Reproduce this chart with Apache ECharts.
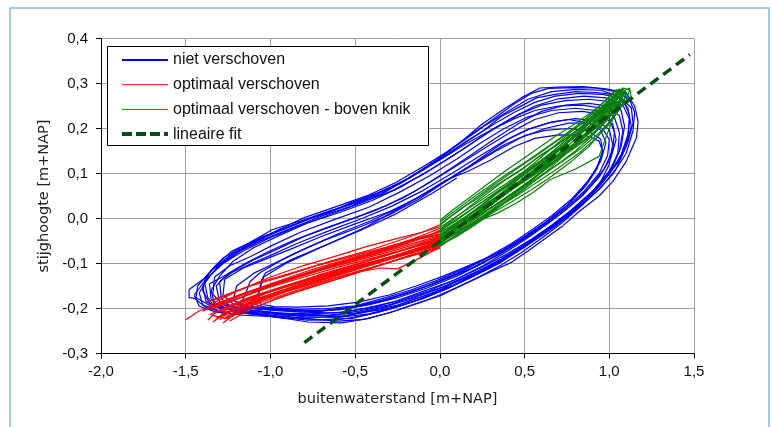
<!DOCTYPE html>
<html>
<head>
<meta charset="utf-8">
<script src="https://cdn.jsdelivr.net/npm/echarts@6/dist/echarts.min.js"></script>
<style>
html,body{margin:0;padding:0;background:#fff;}
#chart{width:772px;height:427px;}
</style>
</head>
<body>
<div id="chart"></div>
<script>
// ---- axis ticks ----
const xTicks = [-2.0, -1.5, -1.0, -0.5, 0.0, 0.5, 1.0, 1.5];
const yTicks = [-0.3, -0.2, -0.1, 0.0, 0.1, 0.2, 0.3, 0.4];

// ---- legend names / titles ----
const seriesNames = ['niet verschoven', 'optimaal verschoven', 'optimaal verschoven - boven knik', 'lineaire fit'];
const xTitle = 'buitenwaterstand [m+NAP]';
const yTitle = 'stijghoogte [m+NAP]';

// ---- niet verschoven (blue hysteresis loops), [x, y] ----
const blueLoops = [
 [[-1.48,-0.158],[-1.48,-0.176],[-1.43,-0.178],[-1.35,-0.195],[-1.20,-0.205],[-1.00,-0.215],[-0.80,-0.222],[-0.60,-0.228],[-0.45,-0.224],[-0.30,-0.210],[-0.15,-0.190],[0.00,-0.172],[0.15,-0.145],[0.30,-0.118],[0.42,-0.098],[0.52,-0.072],[0.62,-0.045],[0.72,-0.018],[0.82,0.015],[0.94,0.050],[1.02,0.082],[1.10,0.127],[1.16,0.179],[1.17,0.215],[1.15,0.250],[1.10,0.279],[0.98,0.288],[0.845,0.293],[0.70,0.292],[0.59,0.290],[0.48,0.268],[0.375,0.242],[0.25,0.210],[0.14,0.175],[0.02,0.140],[-0.11,0.108],[-0.25,0.075],[-0.35,0.053],[-0.50,0.034],[-0.66,0.016],[-0.82,-0.005],[-0.99,-0.025],[-1.13,-0.055],[-1.23,-0.073],[-1.33,-0.107],[-1.375,-0.129],[-1.48,-0.158]],
 [[-1.40,-0.150],[-1.38,-0.185],[-1.30,-0.200],[-1.15,-0.207],[-1.00,-0.212],[-0.80,-0.218],[-0.60,-0.220],[-0.42,-0.212],[-0.25,-0.196],[-0.10,-0.178],[0.05,-0.155],[0.20,-0.128],[0.35,-0.100],[0.48,-0.068],[0.60,-0.038],[0.72,-0.005],[0.84,0.030],[0.95,0.068],[1.04,0.110],[1.10,0.160],[1.13,0.205],[1.11,0.245],[1.05,0.272],[0.95,0.285],[0.80,0.287],[0.66,0.282],[0.52,0.265],[0.40,0.238],[0.26,0.205],[0.12,0.168],[-0.02,0.130],[-0.18,0.090],[-0.35,0.055],[-0.52,0.028],[-0.70,0.005],[-0.88,-0.022],[-1.05,-0.048],[-1.18,-0.072],[-1.30,-0.105],[-1.36,-0.128],[-1.40,-0.150]],
 [[-1.35,-0.160],[-1.33,-0.190],[-1.22,-0.203],[-1.05,-0.208],[-0.85,-0.214],[-0.65,-0.216],[-0.48,-0.206],[-0.30,-0.192],[-0.12,-0.170],[0.05,-0.148],[0.22,-0.118],[0.36,-0.090],[0.50,-0.058],[0.62,-0.026],[0.74,0.006],[0.86,0.045],[0.97,0.085],[1.06,0.130],[1.11,0.180],[1.12,0.220],[1.08,0.252],[0.98,0.268],[0.85,0.272],[0.70,0.266],[0.56,0.250],[0.42,0.222],[0.28,0.190],[0.12,0.150],[-0.05,0.110],[-0.22,0.072],[-0.40,0.040],[-0.58,0.015],[-0.78,-0.010],[-0.95,-0.038],[-1.10,-0.065],[-1.22,-0.095],[-1.30,-0.128],[-1.35,-0.160]],
 [[-1.32,-0.150],[-1.30,-0.185],[-1.20,-0.198],[-1.02,-0.203],[-0.82,-0.208],[-0.62,-0.210],[-0.45,-0.200],[-0.28,-0.186],[-0.10,-0.162],[0.08,-0.138],[0.24,-0.110],[0.40,-0.078],[0.54,-0.046],[0.66,-0.015],[0.78,0.020],[0.90,0.060],[1.00,0.105],[1.06,0.150],[1.08,0.195],[1.06,0.228],[0.99,0.250],[0.88,0.256],[0.74,0.252],[0.60,0.238],[0.46,0.210],[0.32,0.176],[0.18,0.140],[0.02,0.100],[-0.15,0.060],[-0.32,0.028],[-0.50,0.002],[-0.68,-0.022],[-0.86,-0.048],[-1.02,-0.075],[-1.15,-0.100],[-1.25,-0.122],[-1.32,-0.150]],
 [[-1.30,-0.140],[-1.29,-0.178],[-1.24,-0.195],[-1.10,-0.200],[-0.92,-0.205],[-0.72,-0.207],[-0.52,-0.198],[-0.35,-0.184],[-0.18,-0.165],[0.00,-0.140],[0.18,-0.112],[0.34,-0.082],[0.48,-0.050],[0.60,-0.020],[0.72,0.012],[0.84,0.050],[0.94,0.092],[1.01,0.135],[1.04,0.175],[1.02,0.210],[0.95,0.232],[0.84,0.238],[0.70,0.235],[0.56,0.220],[0.42,0.192],[0.28,0.160],[0.12,0.122],[-0.05,0.082],[-0.22,0.045],[-0.40,0.015],[-0.60,-0.012],[-0.80,-0.040],[-0.96,-0.068],[-1.10,-0.092],[-1.20,-0.112],[-1.30,-0.140]],
 [[-1.27,-0.135],[-1.28,-0.170],[-1.22,-0.190],[-1.08,-0.198],[-0.90,-0.204],[-0.70,-0.205],[-0.50,-0.196],[-0.32,-0.180],[-0.15,-0.160],[0.02,-0.136],[0.20,-0.108],[0.36,-0.076],[0.50,-0.044],[0.62,-0.012],[0.74,0.022],[0.85,0.060],[0.94,0.100],[0.99,0.140],[1.00,0.175],[0.96,0.200],[0.88,0.212],[0.76,0.212],[0.62,0.200],[0.48,0.180],[0.34,0.152],[0.20,0.120],[0.04,0.084],[-0.12,0.048],[-0.30,0.015],[-0.50,-0.012],[-0.70,-0.040],[-0.88,-0.068],[-1.04,-0.092],[-1.16,-0.110],[-1.27,-0.135]],
 [[-1.07,-0.166],[-1.12,-0.188],[-1.00,-0.200],[-0.80,-0.204],[-0.60,-0.203],[-0.42,-0.192],[-0.25,-0.176],[-0.08,-0.155],[0.10,-0.128],[0.26,-0.098],[0.40,-0.066],[0.52,-0.036],[0.64,-0.004],[0.76,0.032],[0.86,0.072],[0.93,0.112],[0.96,0.150],[0.94,0.172],[0.86,0.185],[0.70,0.186],[0.56,0.178],[0.44,0.160],[0.30,0.130],[0.16,0.104],[0.04,0.086],[-0.15,0.042],[-0.43,-0.018],[-0.65,-0.055],[-0.88,-0.092],[-1.03,-0.121],[-1.05,-0.135],[-1.07,-0.166]],
 [[-1.42,-0.165],[-1.40,-0.192],[-1.30,-0.205],[-1.12,-0.210],[-0.92,-0.218],[-0.72,-0.225],[-0.52,-0.222],[-0.36,-0.208],[-0.20,-0.190],[-0.04,-0.168],[0.12,-0.142],[0.28,-0.112],[0.42,-0.080],[0.55,-0.050],[0.68,-0.018],[0.80,0.018],[0.91,0.058],[1.00,0.100],[1.05,0.145],[1.06,0.190],[1.03,0.225],[0.96,0.245],[0.84,0.252],[0.70,0.250],[0.56,0.240],[0.44,0.222],[0.30,0.196],[0.15,0.165],[0.00,0.130],[-0.18,0.090],[-0.36,0.058],[-0.55,0.030],[-0.75,0.002],[-0.95,-0.028],[-1.10,-0.052],[-1.22,-0.078],[-1.32,-0.110],[-1.38,-0.140],[-1.42,-0.165]],
 [[-1.38,-0.128],[-1.40,-0.160],[-1.36,-0.188],[-1.25,-0.200],[-1.08,-0.205],[-0.88,-0.212],[-0.68,-0.215],[-0.50,-0.210],[-0.34,-0.198],[-0.18,-0.180],[-0.02,-0.158],[0.14,-0.132],[0.30,-0.104],[0.44,-0.074],[0.56,-0.044],[0.68,-0.012],[0.80,0.022],[0.92,0.058],[1.02,0.098],[1.10,0.145],[1.14,0.195],[1.15,0.235],[1.12,0.265],[1.04,0.282],[0.92,0.290],[0.78,0.291],[0.64,0.289],[0.54,0.278],[0.44,0.255],[0.32,0.222],[0.18,0.185],[0.04,0.148],[-0.10,0.115],[-0.26,0.080],[-0.42,0.052],[-0.60,0.028],[-0.80,0.002],[-0.98,-0.030],[-1.14,-0.062],[-1.26,-0.092],[-1.34,-0.112],[-1.38,-0.128]],
 [[-1.36,-0.145],[-1.35,-0.180],[-1.28,-0.200],[-1.12,-0.212],[-0.95,-0.220],[-0.78,-0.230],[-0.58,-0.232],[-0.42,-0.222],[-0.26,-0.205],[-0.10,-0.185],[0.06,-0.160],[0.22,-0.132],[0.36,-0.104],[0.48,-0.076],[0.60,-0.044],[0.72,-0.010],[0.84,0.030],[0.94,0.075],[1.00,0.120],[1.02,0.165],[1.00,0.198],[0.93,0.216],[0.80,0.222],[0.66,0.215],[0.52,0.198],[0.38,0.172],[0.24,0.140],[0.08,0.102],[-0.10,0.062],[-0.28,0.028],[-0.46,0.000],[-0.66,-0.028],[-0.84,-0.055],[-1.00,-0.082],[-1.14,-0.105],[-1.26,-0.125],[-1.36,-0.145]],
 [[-1.45,-0.170],[-1.42,-0.195],[-1.32,-0.208],[-1.16,-0.215],[-0.98,-0.218],[-0.78,-0.226],[-0.60,-0.225],[-0.44,-0.215],[-0.28,-0.200],[-0.12,-0.180],[0.04,-0.156],[0.18,-0.130],[0.32,-0.102],[0.46,-0.070],[0.58,-0.040],[0.70,-0.006],[0.82,0.030],[0.93,0.070],[1.02,0.115],[1.07,0.160],[1.09,0.205],[1.07,0.240],[1.00,0.260],[0.88,0.265],[0.74,0.262],[0.60,0.252],[0.47,0.232],[0.34,0.205],[0.20,0.170],[0.06,0.135],[-0.10,0.098],[-0.28,0.062],[-0.46,0.035],[-0.64,0.010],[-0.84,-0.018],[-1.00,-0.042],[-1.15,-0.070],[-1.28,-0.100],[-1.38,-0.135],[-1.45,-0.170]],
 [[-1.33,-0.130],[-1.34,-0.168],[-1.28,-0.192],[-1.14,-0.203],[-0.96,-0.210],[-0.76,-0.212],[-0.56,-0.208],[-0.38,-0.196],[-0.22,-0.180],[-0.06,-0.160],[0.10,-0.134],[0.26,-0.104],[0.40,-0.072],[0.53,-0.040],[0.65,-0.008],[0.77,0.028],[0.88,0.068],[0.97,0.110],[1.02,0.152],[1.03,0.192],[1.00,0.222],[0.92,0.240],[0.80,0.245],[0.66,0.240],[0.52,0.226],[0.38,0.200],[0.24,0.168],[0.10,0.132],[-0.06,0.095],[-0.24,0.058],[-0.42,0.025],[-0.62,-0.002],[-0.82,-0.030],[-0.98,-0.058],[-1.12,-0.085],[-1.24,-0.105],[-1.33,-0.130]],
 [[-1.39,-0.140],[-1.37,-0.176],[-1.33,-0.196],[-1.20,-0.204],[-1.06,-0.206],[-0.90,-0.216],[-0.74,-0.214],[-0.58,-0.218],[-0.44,-0.208],[-0.30,-0.200],[-0.16,-0.180],[-0.04,-0.166],[0.10,-0.140],[0.22,-0.122],[0.36,-0.094],[0.47,-0.070],[0.58,-0.038],[0.69,-0.012],[0.80,0.026],[0.90,0.060],[1.00,0.098],[1.07,0.142],[1.11,0.186],[1.12,0.228],[1.09,0.258],[1.02,0.276],[0.92,0.280],[0.80,0.282],[0.68,0.276],[0.57,0.268],[0.47,0.248],[0.36,0.226],[0.26,0.196],[0.14,0.168],[0.02,0.136],[-0.12,0.104],[-0.24,0.076],[-0.38,0.054],[-0.52,0.036],[-0.66,0.012],[-0.80,-0.004],[-0.94,-0.026],[-1.06,-0.042],[-1.18,-0.066],[-1.28,-0.088],[-1.35,-0.115],[-1.39,-0.140]],
 [[-1.20,-0.150],[-1.22,-0.182],[-1.14,-0.196],[-1.00,-0.198],[-0.84,-0.202],[-0.66,-0.200],[-0.50,-0.194],[-0.34,-0.178],[-0.18,-0.160],[-0.02,-0.138],[0.14,-0.112],[0.28,-0.086],[0.42,-0.056],[0.54,-0.026],[0.66,0.006],[0.78,0.044],[0.88,0.086],[0.95,0.128],[0.98,0.168],[0.95,0.196],[0.88,0.212],[0.76,0.220],[0.64,0.212],[0.52,0.198],[0.42,0.180],[0.30,0.150],[0.18,0.118],[0.04,0.084],[-0.12,0.044],[-0.30,0.008],[-0.48,-0.020],[-0.68,-0.048],[-0.86,-0.078],[-1.00,-0.104],[-1.10,-0.122],[-1.20,-0.150]],
 [[-1.43,-0.150],[-1.44,-0.180],[-1.38,-0.198],[-1.26,-0.210],[-1.10,-0.212],[-0.92,-0.222],[-0.74,-0.220],[-0.56,-0.216],[-0.40,-0.204],[-0.24,-0.192],[-0.08,-0.170],[0.08,-0.148],[0.22,-0.122],[0.36,-0.096],[0.50,-0.064],[0.62,-0.032],[0.74,0.002],[0.86,0.040],[0.96,0.080],[1.05,0.124],[1.11,0.170],[1.14,0.212],[1.13,0.246],[1.07,0.268],[0.96,0.276],[0.82,0.278],[0.68,0.272],[0.56,0.258],[0.44,0.236],[0.32,0.210],[0.18,0.176],[0.04,0.142],[-0.10,0.108],[-0.26,0.074],[-0.42,0.046],[-0.60,0.022],[-0.78,-0.002],[-0.96,-0.028],[-1.10,-0.054],[-1.24,-0.082],[-1.34,-0.112],[-1.43,-0.150]],
 [[-1.15,-0.170],[-1.18,-0.192],[-1.06,-0.200],[-0.90,-0.204],[-0.72,-0.206],[-0.54,-0.200],[-0.38,-0.186],[-0.22,-0.168],[-0.06,-0.148],[0.10,-0.122],[0.24,-0.096],[0.38,-0.068],[0.50,-0.040],[0.62,-0.010],[0.74,0.026],[0.84,0.066],[0.92,0.108],[0.96,0.146],[0.95,0.176],[0.88,0.194],[0.76,0.200],[0.62,0.196],[0.50,0.184],[0.38,0.164],[0.26,0.136],[0.12,0.104],[-0.04,0.066],[-0.22,0.028],[-0.40,-0.004],[-0.60,-0.034],[-0.78,-0.064],[-0.94,-0.094],[-1.06,-0.120],[-1.12,-0.140],[-1.15,-0.170]],
 [[0.395,-0.066],[0.30,-0.084],[0.16,-0.106],[0.02,-0.128],[-0.14,-0.150],[-0.30,-0.170],[-0.48,-0.186],[-0.66,-0.194],[-0.84,-0.197],[-0.98,-0.196],[-1.06,-0.190],[-1.07,-0.166],[-1.04,-0.130],[-0.90,-0.098],[-0.70,-0.064],[-0.46,-0.025],[-0.25,0.012],[-0.05,0.055],[0.10,0.090]]
];

// ---- optimaal verschoven (red, below knik) ----
const redLines = [
 [[-1.50,-0.225],[-1.42,-0.205],[-1.30,-0.192],[-1.15,-0.172],[-1.00,-0.152],[-0.80,-0.130],[-0.60,-0.108],[-0.40,-0.088],[-0.20,-0.068],[0.00,-0.048]],
 [[-1.36,-0.196],[-1.25,-0.182],[-1.10,-0.160],[-0.90,-0.138],[-0.70,-0.115],[-0.50,-0.094],[-0.30,-0.074],[-0.15,-0.058],[0.00,-0.040]],
 [[-1.33,-0.210],[-1.22,-0.192],[-1.05,-0.168],[-0.85,-0.146],[-0.65,-0.124],[-0.45,-0.102],[-0.25,-0.082],[-0.10,-0.066],[0.00,-0.056]],
 [[-1.30,-0.225],[-1.25,-0.210],[-1.12,-0.186],[-0.95,-0.162],[-0.75,-0.140],[-0.55,-0.116],[-0.35,-0.094],[-0.15,-0.074],[0.00,-0.060]],
 [[-1.38,-0.186],[-1.28,-0.172],[-1.12,-0.150],[-0.92,-0.128],[-0.72,-0.104],[-0.52,-0.084],[-0.32,-0.064],[-0.12,-0.042],[0.00,-0.030]],
 [[-1.35,-0.202],[-1.20,-0.180],[-1.00,-0.150],[-0.80,-0.124],[-0.60,-0.100],[-0.40,-0.078],[-0.22,-0.054],[-0.08,-0.034],[0.00,-0.022]],
 [[-1.28,-0.232],[-1.20,-0.210],[-1.05,-0.182],[-0.88,-0.158],[-0.70,-0.136],[-0.50,-0.112],[-0.30,-0.090],[-0.12,-0.068],[0.00,-0.054]],
 [[-1.32,-0.192],[-1.18,-0.170],[-0.98,-0.144],[-0.78,-0.120],[-0.58,-0.097],[-0.38,-0.074],[-0.20,-0.054],[-0.05,-0.036],[0.00,-0.028]],
 [[-1.26,-0.218],[-1.15,-0.196],[-0.98,-0.170],[-0.80,-0.148],[-0.60,-0.124],[-0.40,-0.100],[-0.20,-0.078],[0.00,-0.058]],
 [[-1.40,-0.206],[-1.30,-0.190],[-1.15,-0.166],[-0.95,-0.142],[-0.75,-0.118],[-0.55,-0.097],[-0.35,-0.076],[-0.15,-0.054],[0.00,-0.038]],
 [[-1.34,-0.182],[-1.22,-0.164],[-1.05,-0.140],[-0.85,-0.118],[-0.62,-0.092],[-0.42,-0.071],[-0.25,-0.050],[-0.10,-0.030],[0.00,-0.018]],
 [[-1.30,-0.208],[-1.18,-0.192],[-1.02,-0.165],[-0.82,-0.140],[-0.62,-0.118],[-0.42,-0.094],[-0.22,-0.071],[-0.06,-0.053],[0.00,-0.046]],
 [[-1.24,-0.228],[-1.12,-0.202],[-0.95,-0.175],[-0.75,-0.152],[-0.55,-0.128],[-0.35,-0.104],[-0.18,-0.082],[0.00,-0.062]],
 [[-1.30,-0.216],[-1.10,-0.186],[-0.90,-0.162],[-0.70,-0.140],[-0.50,-0.120],[-0.35,-0.110],[-0.25,-0.112],[-0.12,-0.088],[0.00,-0.064]],
 [[-1.36,-0.192],[-1.20,-0.162],[-1.00,-0.130],[-0.80,-0.104],[-0.60,-0.082],[-0.43,-0.062],[-0.25,-0.044],[-0.10,-0.030],[0.00,-0.014]],
 [[-1.37,-0.226],[-1.32,-0.208],[-1.25,-0.198],[-1.10,-0.176],[-0.90,-0.150],[-0.70,-0.128],[-0.48,-0.104],[-0.28,-0.084],[-0.10,-0.062],[0.00,-0.050]],
 [[-1.28,-0.200],[-1.14,-0.178],[-0.96,-0.156],[-0.76,-0.133],[-0.56,-0.110],[-0.36,-0.087],[-0.16,-0.064],[0.00,-0.044]],
 [[-1.35,-0.214],[-1.27,-0.222],[-1.16,-0.200],[-0.98,-0.176],[-0.78,-0.152],[-0.58,-0.128],[-0.38,-0.106],[-0.18,-0.084],[0.00,-0.064]],
 [[-1.32,-0.222],[-1.22,-0.204],[-1.08,-0.178],[-0.90,-0.156],[-0.72,-0.134],[-0.52,-0.110],[-0.32,-0.088],[-0.14,-0.068],[0.00,-0.052]],
 [[-1.38,-0.200],[-1.30,-0.186],[-1.16,-0.166],[-0.96,-0.140],[-0.76,-0.114],[-0.56,-0.092],[-0.36,-0.070],[-0.16,-0.048],[0.00,-0.034]],
 [[-1.29,-0.212],[-1.20,-0.200],[-1.04,-0.174],[-0.86,-0.150],[-0.66,-0.128],[-0.46,-0.104],[-0.26,-0.082],[-0.08,-0.060],[0.00,-0.050]],
 [[-1.33,-0.198],[-1.24,-0.186],[-1.08,-0.160],[-0.88,-0.134],[-0.68,-0.110],[-0.48,-0.088],[-0.28,-0.066],[-0.12,-0.046],[0.00,-0.036]],
 [[-1.27,-0.224],[-1.18,-0.210],[-1.00,-0.184],[-0.82,-0.160],[-0.62,-0.136],[-0.42,-0.112],[-0.22,-0.088],[0.00,-0.066]],
 [[-1.36,-0.214],[-1.26,-0.196],[-1.10,-0.172],[-0.92,-0.150],[-0.72,-0.126],[-0.52,-0.104],[-0.32,-0.082],[-0.14,-0.060],[0.00,-0.042]],
 [[-1.31,-0.188],[-1.20,-0.174],[-1.02,-0.150],[-0.84,-0.128],[-0.64,-0.104],[-0.44,-0.082],[-0.24,-0.060],[-0.08,-0.040],[0.00,-0.026]],
 [[-1.34,-0.230],[-1.28,-0.214],[-1.14,-0.190],[-0.96,-0.166],[-0.76,-0.144],[-0.56,-0.122],[-0.36,-0.098],[-0.16,-0.076],[0.00,-0.058]]
];

// ---- optimaal verschoven - boven knik (green) ----
const greenLoops = [
 [[0.00,-0.028],[0.10,-0.004],[0.20,0.024],[0.30,0.050],[0.40,0.076],[0.50,0.102],[0.60,0.128],[0.70,0.155],[0.80,0.182],[0.90,0.210],[0.98,0.238],[1.04,0.262],[1.08,0.284],[1.04,0.286],[0.96,0.256],[0.86,0.222],[0.76,0.188],[0.66,0.156],[0.56,0.124],[0.46,0.094],[0.36,0.064],[0.26,0.034],[0.16,0.006],[0.06,-0.022],[0.00,-0.040]],
 [[0.00,-0.045],[0.08,-0.026],[0.18,0.000],[0.28,0.026],[0.38,0.052],[0.48,0.078],[0.58,0.102],[0.68,0.128],[0.78,0.155],[0.88,0.182],[0.96,0.210],[1.02,0.236],[1.06,0.262],[1.10,0.280],[1.08,0.288],[1.00,0.262],[0.92,0.232],[0.82,0.198],[0.72,0.166],[0.62,0.134],[0.52,0.104],[0.42,0.074],[0.32,0.044],[0.22,0.016],[0.12,-0.012],[0.00,-0.036]],
 [[0.00,-0.012],[0.10,0.014],[0.20,0.042],[0.30,0.070],[0.40,0.096],[0.50,0.122],[0.60,0.148],[0.70,0.175],[0.80,0.200],[0.90,0.228],[0.98,0.252],[1.05,0.276],[1.12,0.290],[1.13,0.268],[1.06,0.248],[0.98,0.222],[0.88,0.192],[0.78,0.162],[0.68,0.134],[0.58,0.108],[0.48,0.080],[0.38,0.054],[0.28,0.028],[0.18,0.002],[0.08,-0.024],[0.00,-0.044]],
 [[0.00,-0.055],[0.10,-0.032],[0.22,-0.004],[0.34,0.024],[0.46,0.052],[0.58,0.082],[0.70,0.112],[0.82,0.145],[0.92,0.178],[1.00,0.210],[1.05,0.240],[1.06,0.262],[1.01,0.250],[0.94,0.218],[0.84,0.180],[0.74,0.142],[0.64,0.108],[0.54,0.078],[0.44,0.050],[0.34,0.022],[0.22,-0.008],[0.10,-0.036],[0.00,-0.060]],
 [[0.00,-0.020],[0.12,0.010],[0.24,0.040],[0.36,0.070],[0.48,0.100],[0.60,0.130],[0.72,0.160],[0.84,0.192],[0.94,0.222],[1.02,0.250],[1.06,0.275],[1.04,0.278],[0.97,0.248],[0.88,0.215],[0.78,0.180],[0.68,0.148],[0.56,0.114],[0.44,0.084],[0.32,0.054],[0.20,0.024],[0.08,-0.006],[0.00,-0.026]],
 [[0.00,-0.038],[0.09,-0.016],[0.19,0.012],[0.29,0.038],[0.39,0.062],[0.49,0.088],[0.59,0.114],[0.69,0.140],[0.79,0.166],[0.89,0.194],[0.97,0.222],[1.03,0.250],[1.05,0.270],[1.00,0.255],[0.92,0.226],[0.83,0.196],[0.73,0.164],[0.63,0.130],[0.53,0.098],[0.43,0.068],[0.33,0.040],[0.23,0.012],[0.13,-0.014],[0.00,-0.048]],
 [[0.00,-0.004],[0.08,0.020],[0.18,0.048],[0.28,0.076],[0.38,0.104],[0.48,0.130],[0.58,0.156],[0.68,0.182],[0.78,0.206],[0.88,0.232],[0.96,0.256],[1.02,0.276],[1.06,0.288],[1.10,0.272],[1.04,0.244],[0.96,0.214],[0.86,0.182],[0.76,0.150],[0.66,0.120],[0.56,0.092],[0.46,0.064],[0.36,0.038],[0.26,0.012],[0.16,-0.014],[0.06,-0.040],[0.00,-0.058]],
 [[0.00,-0.050],[0.12,-0.020],[0.24,0.010],[0.36,0.038],[0.48,0.066],[0.60,0.096],[0.72,0.126],[0.84,0.158],[0.94,0.190],[1.02,0.222],[1.08,0.252],[1.10,0.276],[1.05,0.280],[0.98,0.250],[0.90,0.218],[0.80,0.184],[0.70,0.150],[0.60,0.118],[0.50,0.088],[0.40,0.058],[0.30,0.030],[0.20,0.002],[0.10,-0.026],[0.00,-0.052]],
 [[0.00,-0.048],[0.10,-0.030],[0.20,-0.010],[0.34,0.012],[0.45,0.034],[0.55,0.058],[0.65,0.086],[0.80,0.110],[0.94,0.138],[0.98,0.180],[1.02,0.220],[1.06,0.252],[1.04,0.262],[0.96,0.236],[0.86,0.204],[0.76,0.172],[0.66,0.140],[0.56,0.110],[0.46,0.080],[0.36,0.052],[0.26,0.024],[0.14,-0.004],[0.00,-0.030]],
 [[0.00,-0.032],[0.11,-0.006],[0.22,0.020],[0.33,0.046],[0.44,0.072],[0.55,0.098],[0.66,0.124],[0.77,0.150],[0.88,0.180],[0.96,0.208],[1.03,0.238],[1.07,0.264],[1.09,0.282],[1.06,0.270],[0.99,0.244],[0.90,0.212],[0.80,0.176],[0.70,0.144],[0.60,0.114],[0.50,0.086],[0.40,0.058],[0.30,0.030],[0.20,0.004],[0.10,-0.020],[0.00,-0.044]],
 [[0.00,-0.016],[0.06,0.004],[0.14,0.026],[0.22,0.044],[0.30,0.066],[0.40,0.090],[0.50,0.114],[0.60,0.142],[0.70,0.166],[0.80,0.194],[0.90,0.218],[0.98,0.244],[1.04,0.268],[1.06,0.284],[1.02,0.270],[0.94,0.240],[0.84,0.206],[0.74,0.172],[0.64,0.142],[0.54,0.110],[0.44,0.082],[0.34,0.056],[0.24,0.028],[0.14,0.000],[0.04,-0.026],[0.00,-0.036]],
 [[0.00,-0.060],[0.10,-0.040],[0.20,-0.016],[0.30,0.010],[0.42,0.036],[0.54,0.064],[0.66,0.094],[0.78,0.128],[0.88,0.160],[0.96,0.194],[1.02,0.226],[1.06,0.254],[1.03,0.262],[0.96,0.230],[0.88,0.196],[0.78,0.162],[0.68,0.128],[0.58,0.096],[0.48,0.066],[0.38,0.036],[0.28,0.008],[0.18,-0.018],[0.08,-0.042],[0.00,-0.062]],
 [[0.00,-0.008],[0.10,0.020],[0.20,0.048],[0.30,0.074],[0.40,0.100],[0.50,0.124],[0.60,0.150],[0.70,0.176],[0.80,0.204],[0.88,0.226],[0.96,0.250],[1.02,0.270],[1.08,0.290],[1.12,0.286],[1.10,0.262],[1.02,0.238],[0.94,0.208],[0.84,0.176],[0.74,0.144],[0.64,0.114],[0.54,0.086],[0.44,0.060],[0.34,0.034],[0.24,0.008],[0.12,-0.018],[0.00,-0.038]],
 [[0.00,-0.042],[0.10,-0.018],[0.20,0.008],[0.30,0.034],[0.40,0.060],[0.50,0.084],[0.60,0.110],[0.70,0.138],[0.80,0.168],[0.90,0.198],[0.98,0.226],[1.04,0.252],[1.08,0.274],[1.06,0.280],[1.00,0.258],[0.92,0.228],[0.82,0.192],[0.72,0.158],[0.62,0.124],[0.52,0.094],[0.42,0.066],[0.32,0.038],[0.22,0.010],[0.12,-0.016],[0.00,-0.048]],
 [[0.00,-0.024],[0.08,-0.002],[0.18,0.028],[0.28,0.056],[0.38,0.084],[0.48,0.108],[0.58,0.136],[0.68,0.160],[0.78,0.188],[0.88,0.214],[0.96,0.236],[1.02,0.258],[1.05,0.278],[1.01,0.266],[0.94,0.234],[0.86,0.204],[0.76,0.170],[0.66,0.138],[0.56,0.106],[0.46,0.076],[0.36,0.046],[0.26,0.018],[0.16,-0.008],[0.06,-0.030],[0.00,-0.044]],
 [[0.00,-0.052],[0.12,-0.028],[0.24,0.002],[0.36,0.030],[0.46,0.056],[0.56,0.084],[0.68,0.116],[0.80,0.150],[0.90,0.184],[0.98,0.216],[1.04,0.244],[1.08,0.266],[1.05,0.258],[0.98,0.232],[0.90,0.202],[0.80,0.168],[0.70,0.134],[0.60,0.104],[0.50,0.074],[0.40,0.046],[0.30,0.018],[0.18,-0.012],[0.06,-0.040],[0.00,-0.054]]
];

// ---- lineaire fit ----
const fitLine = [[-0.80,-0.276],[1.475,0.364]];

// ---- build chart ----
const fmt = v => v.toFixed(1).replace('.', ',');
const BLUE = '#0000ff', RED = '#ff0000', GREEN = '#0a800a', FIT = '#0b4d12';
const series = [];
function addLines(list, name, color, z) {
  list.forEach(d => series.push({
    name: name, type: 'line', data: d, symbol: 'none', silent: true, z: z,
    lineStyle: { color: color, width: 1.2 }, itemStyle: { color: color }
  }));
}
addLines(blueLoops, seriesNames[0], BLUE, 2);
addLines(redLines, seriesNames[1], RED, 3);
addLines(greenLoops, seriesNames[2], GREEN, 4);
series.push({
  name: seriesNames[3], type: 'line', data: fitLine, symbol: 'none', silent: true, z: 5,
  lineStyle: { color: FIT, width: 3.5, type: [10, 6], cap: 'butt' }, itemStyle: { color: FIT }
});

const hiddenSym = { opacity: 0, borderWidth: 0 };
const chart = echarts.init(document.getElementById('chart'), null, { renderer: 'canvas' });
chart.setOption({
  animation: false,
  backgroundColor: '#ffffff',
  grid: { left: 101, right: 78, top: 38.5, bottom: 73.5, containLabel: false },
  xAxis: {
    type: 'value', min: xTicks[0], max: xTicks[xTicks.length - 1], interval: xTicks[1] - xTicks[0],
    name: xTitle, nameLocation: 'middle', nameGap: 38,
    nameTextStyle: { fontFamily: 'DejaVu Sans', fontSize: 14.5, color: '#222' },
    axisLine: { onZero: false, lineStyle: { color: '#000', width: 1 } },
    axisTick: { show: true, inside: false, length: 5, lineStyle: { color: '#000' } },
    axisLabel: { formatter: fmt, margin: 11, fontFamily: 'Liberation Sans', fontSize: 15, color: '#111' },
    splitLine: { show: true, lineStyle: { color: '#a0a0a0', width: 1 } }
  },
  yAxis: {
    type: 'value', min: yTicks[0], max: yTicks[yTicks.length - 1], interval: 0.1,
    name: yTitle, nameLocation: 'middle', nameGap: 48, nameRotate: 90,
    nameTextStyle: { fontFamily: 'DejaVu Sans', fontSize: 14.5, color: '#222' },
    axisLine: { show: true, onZero: false, lineStyle: { color: '#000', width: 1 } },
    axisTick: { show: true, inside: false, length: 5, lineStyle: { color: '#000' } },
    axisLabel: { formatter: fmt, margin: 13, fontFamily: 'Liberation Sans', fontSize: 15, color: '#111' },
    splitLine: { show: true, lineStyle: { color: '#a0a0a0', width: 1 } }
  },
  legend: {
    show: true, orient: 'vertical', left: 120, top: 52, z: 20,
    itemWidth: 46, itemHeight: 16, itemGap: 8.7, padding: 0,
    textStyle: { fontFamily: 'Liberation Sans', fontSize: 16, color: '#111', lineHeight: 16 },
    data: [
      { name: seriesNames[0], itemStyle: hiddenSym, lineStyle: { width: 2, color: BLUE } },
      { name: seriesNames[1], itemStyle: hiddenSym, lineStyle: { width: 1, color: RED } },
      { name: seriesNames[2], itemStyle: hiddenSym, lineStyle: { width: 1, color: GREEN } },
      { name: seriesNames[3], itemStyle: hiddenSym, lineStyle: { width: 4, color: FIT, type: [10, 4] } }
    ]
  },
  graphic: {
    elements: [
      { type: 'rect', z: 10, silent: true, shape: { x: 10, y: 8, width: 759, height: 440 },
        style: { fill: null, stroke: '#8db3e2', lineWidth: 1.5 } },
      { type: 'rect', z: 10, silent: true, shape: { x: 107.5, y: 46.5, width: 321, height: 99 },
        style: { fill: '#fff', stroke: '#000', lineWidth: 1 } }
    ]
  },
  series: series
});
</script>
</body>
</html>
